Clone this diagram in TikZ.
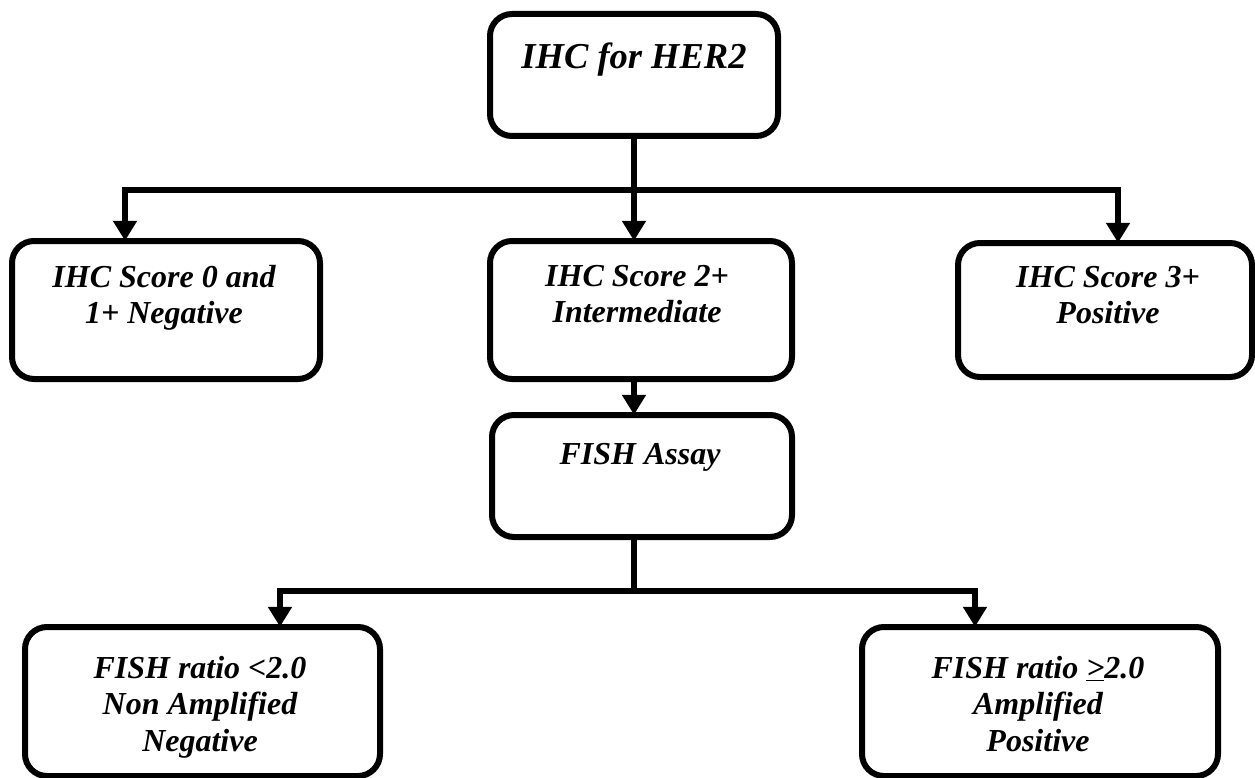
\documentclass[tikz,border=0pt]{standalone}
\usepackage{fontspec}
\setmainfont{Liberation Serif}
\usetikzlibrary{arrows.meta,calc}
\begin{document}
\begin{tikzpicture}[x=1pt,y=-1pt,
  box/.style={draw=black,line width=6pt,rounded corners=22pt,fill=white},
  frame/.style={inner sep=0pt},
  txt/.style={font=\fontsize{32}{36.5}\selectfont\bfseries\itshape,align=center,inner sep=0pt,anchor=north},
  bigtxt/.style={font=\fontsize{36.5}{42}\selectfont\bfseries\itshape,align=center,inner sep=0pt,anchor=north},
  conn/.style={line width=6pt},
  arr/.style={line width=6pt,-{Triangle[length=20pt,width=23pt]}}]
\useasboundingbox (0,0) rectangle (1255,778);
% boxes
\draw[box] (490,14) rectangle (778,136);
\node[frame,minimum width=288pt,minimum height=122pt] (top) at (634,75) {};
\node[bigtxt] (toptxt) at (634,43) {IHC for HER2};

\draw[box] (12,241) rectangle (320,379);
\node[frame,minimum width=308pt,minimum height=138pt] (neg) at (166,310) {};
\node[txt] (negtxt) at (164,265) {IHC Score 0 and\\1+ Negative};

\draw[box] (490,241) rectangle (792,379);
\node[frame,minimum width=302pt,minimum height=138pt] (mid) at (634,310) {};
\node[txt] (midtxt) at (637,265) {IHC Score 2+\\Intermediate};

\draw[box] (958,243) rectangle (1252,377);
\node[frame,minimum width=294pt,minimum height=134pt] (pos) at (1105,310) {};
\node[txt] (postxt) at (1108,266) {IHC Score 3+\\Positive};

\draw[box] (492,415) rectangle (792,537);
\node[frame,minimum width=300pt,minimum height=122pt] (fish) at (642,476) {};
\node[txt] (fishtxt) at (640,443) {FISH Assay};

\draw[box] (25,627) rectangle (380,776);
\node[frame,minimum width=355pt,minimum height=149pt] (nonamp) at (202.5,701.5) {};
\node[txt] (nonamptxt) at (200,656) {FISH ratio <2.0\\Non Amplified\\Negative};

\draw[box] (862,627) rectangle (1218,776);
\node[frame,minimum width=356pt,minimum height=149pt] (amp) at (1040,701.5) {};
\node[txt] (amptxt) at (1038,656) {FISH ratio \underline{>}2.0\\Amplified\\Positive};

% connectors
\coordinate (j1) at (634,190);
\coordinate (l1) at (125,190);
\coordinate (r1) at (1118,190);
\draw[conn] (top.south) -- (j1);
\draw[conn,line cap=rect] (l1) -- (r1);
\draw[arr] (l1) -- (l1 |- neg.north);
\draw[arr] (j1) -- (j1 |- mid.north);
\draw[arr] (r1) -- (r1 |- pos.north);
\draw[arr] (mid.south) -- (fish.north -| mid.south);
\coordinate (j2) at (634,591);
\coordinate (l2) at (280,591);
\coordinate (r2) at (975,591);
\draw[conn] (j2 |- fish.south) -- (j2);
\draw[conn,line cap=rect] (l2) -- (r2);
\draw[arr] (l2) -- (l2 |- nonamp.north);
\draw[arr] (r2) -- (r2 |- amp.north);
\end{tikzpicture}
\end{document}
